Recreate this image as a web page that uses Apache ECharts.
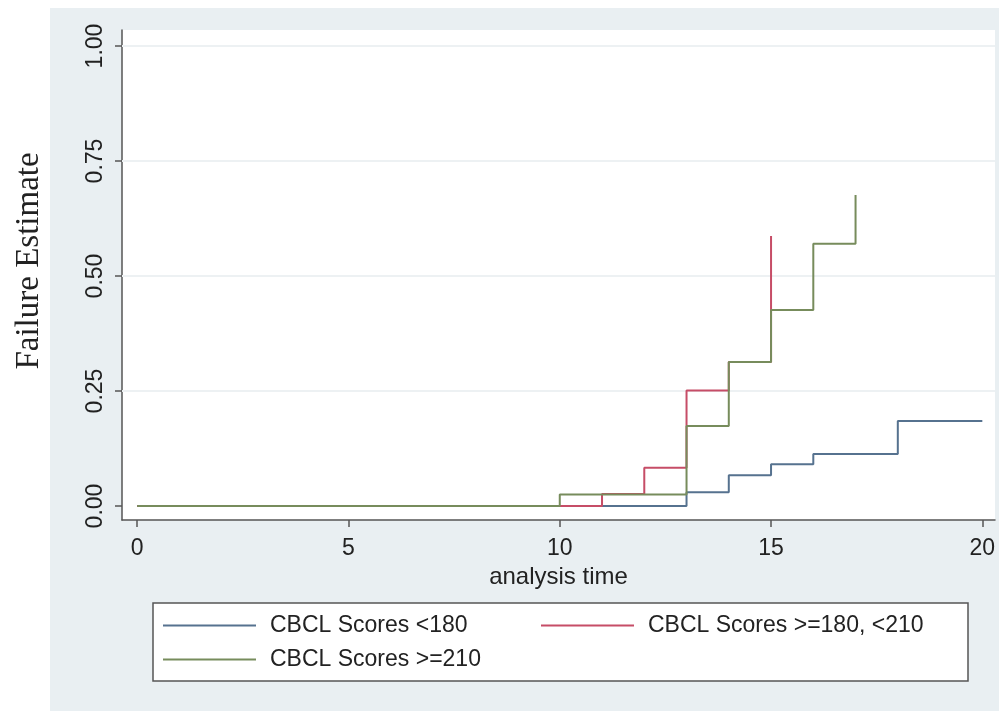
<!DOCTYPE html>
<html>
<head>
<meta charset="utf-8">
<script src="https://cdn.jsdelivr.net/npm/echarts@6/dist/echarts.min.js"></script>
<style>
  html, body { margin: 0; padding: 0; background: #fff; }
  .page { position: relative; width: 999px; height: 711px; overflow: hidden; }
  .page-bg { position: absolute; left: 50px; top: 8px; right: 0; bottom: 0; background: #e9eff2; }
  .failure-chart { position: absolute; left: 0; top: 0; width: 999px; height: 711px; }
</style>
</head>
<body>
<div class="page">
  <div class="page-bg"></div>
  <div class="failure-chart" id="chart"></div>
</div>
<script>
// step points (analysis time, failure estimate)
var seriesNames = ["CBCL Scores <180", "CBCL Scores >=180, <210", "CBCL Scores >=210"];
var lowTime = [0, 13, 14, 15, 16, 18, 20];
var lowFail = [0, 0.03, 0.067, 0.091, 0.113, 0.185, 0.185];
var midTime = [0, 11, 12, 13, 14, 15];
var midFail = [0, 0.026, 0.083, 0.251, 0.313, 0.587];
var highTime = [0, 10, 13, 14, 15, 16, 17];
var highFail = [0, 0.025, 0.174, 0.313, 0.426, 0.57, 0.676];
var xTicks = [0, 5, 10, 15, 20];
var yTicks = [0, 0.25, 0.5, 0.75, 1];
var yGrid = [0.25, 0.5, 0.75, 1];

var colors = ["#56728f", "#c64d67", "#778c5c"];
var sans = "'Liberation Sans', Arial, sans-serif";

function pairs(t, v) {
  return t.map(function (x, i) { return [x, v[i]]; });
}

var chart = echarts.init(document.getElementById("chart"), null, { renderer: "canvas" });

var legendBase = {
  orient: "horizontal",
  padding: 0,
  icon: "rect",
  itemWidth: 93,
  itemHeight: 2,
  textStyle: { fontSize: 23, color: "#222", fontFamily: sans, padding: [0, 0, 0, 9] }
};

var option = {
  backgroundColor: "transparent",
  color: colors,
  animation: false,
  grid: {
    left: 122, right: 4, top: 30, bottom: 191,
    show: true, backgroundColor: "#fff", borderWidth: 0
  },
  legend: [
    Object.assign({}, legendBase, { data: [seriesNames[0]], left: 163, top: 614 }),
    Object.assign({}, legendBase, { data: [seriesNames[1]], left: 541, top: 614 }),
    Object.assign({}, legendBase, { data: [seriesNames[2]], left: 163, top: 648 })
  ],
  graphic: [
    {
      type: "rect",
      shape: { x: 153, y: 603, width: 815, height: 78 },
      style: { fill: "#fff", stroke: "#555", lineWidth: 1.5 },
      silent: true
    }
  ],
  xAxis: {
    type: "value",
    min: -0.36,
    max: 20.3,
    name: "analysis time",
    nameLocation: "middle",
    nameGap: 36,
    nameTextStyle: { fontSize: 24, color: "#222", fontFamily: sans },
    axisLine: { show: true, onZero: false, lineStyle: { color: "#555", width: 1.5 } },
    axisTick: { show: true, length: 7, customValues: xTicks, lineStyle: { color: "#555", width: 1.5 } },
    axisLabel: { customValues: xTicks, margin: 17, fontSize: 23, color: "#222", fontFamily: sans },
    splitLine: { show: false }
  },
  yAxis: {
    type: "value",
    min: -0.0304,
    max: 1.0348,
    name: "Failure Estimate",
    nameLocation: "middle",
    nameGap: 76,
    nameTextStyle: { fontSize: 33, color: "#222", fontFamily: "'Liberation Serif', 'Times New Roman', serif", padding: [0, 0, 0, 28] },
    axisLine: { show: true, onZero: false, lineStyle: { color: "#555", width: 1.5 } },
    axisTick: { show: true, length: 7, customValues: yTicks, lineStyle: { color: "#555", width: 1.5 } },
    axisLabel: {
      customValues: yTicks, rotate: 90, margin: 15, fontSize: 23, color: "#222", fontFamily: sans,
      formatter: function (v) { return v.toFixed(2); }
    },
    splitLine: { show: false }
  },
  series: [
    {
      name: seriesNames[0], type: "line", step: "end", symbol: "none", showSymbol: false,
      lineStyle: { width: 2 }, data: pairs(lowTime, lowFail),
      markLine: {
        silent: true, symbol: "none", label: { show: false }, z: 1,
        lineStyle: { color: "#edf1f3", width: 2, type: "solid" },
        data: yGrid.map(function (y) { return { yAxis: y }; })
      },
      z: 2
    },
    {
      name: seriesNames[1], type: "line", step: "end", symbol: "none", showSymbol: false,
      lineStyle: { width: 2 }, data: pairs(midTime, midFail), z: 3
    },
    {
      name: seriesNames[2], type: "line", step: "end", symbol: "none", showSymbol: false,
      lineStyle: { width: 2 }, data: pairs(highTime, highFail), z: 4
    }
  ]
};

chart.setOption(option);
</script>
</body>
</html>
